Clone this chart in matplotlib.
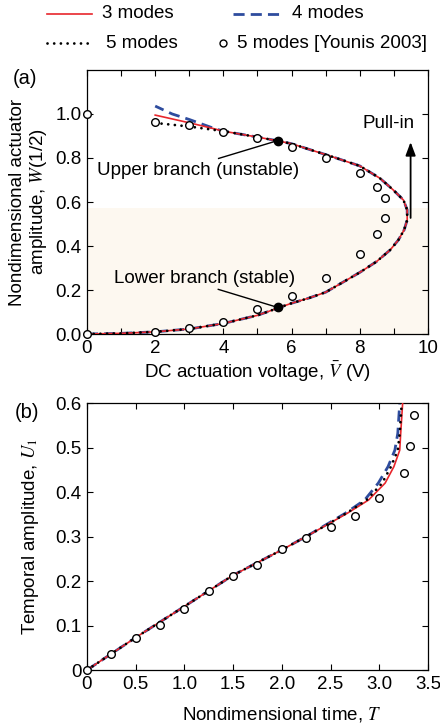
import numpy as np
import matplotlib.pyplot as plt
from matplotlib.lines import Line2D
from matplotlib.ticker import MultipleLocator

plt.rcParams['font.family'] = ['Liberation Sans', 'DejaVu Sans']
plt.rcParams['mathtext.fontset'] = 'stix'
FS = 13.5

################### Panel (a) data : static response

# common part of the S-curve (lower branch -> pull-in nose -> upper branch)
V_common = [0, 1, 2, 3, 4, 5, 5.6, 6, 6.5, 7, 7.5, 8.0, 8.49, 8.89, 9.13, 9.30, 9.39, 9.39,
            9.28, 8.98, 8.59, 8.0, 7.13, 6.5, 6.0, 5.56, 5.0, 4.0]
W_common = [0, 0.003, 0.01, 0.023, 0.048, 0.085, 0.118, 0.14, 0.163, 0.19, 0.235, 0.28, 0.329, 0.382, 0.427, 0.473, 0.518, 0.564,
            0.609, 0.655, 0.708, 0.764, 0.809, 0.84, 0.865, 0.879, 0.895, 0.922]

# upper end of the curve, where the mode counts differ
V_end3 = [3.7, 3.0, 2.0]
W_end3 = [0.934, 0.96, 0.995]
V_end4 = [3.7, 3.0, 2.5, 2.0]
W_end4 = [0.936, 0.975, 1.0, 1.036]
V_end5 = [3.0, 2.14]
W_end5 = [0.943, 0.957]

# Younis 2003 points
V_ref = [0, 0, 2, 3, 4, 5, 6, 7, 8, 8.5, 8.74, 8.74, 8.5, 8, 7, 6, 5, 4, 3, 2]
W_ref = [1.0, 0.0, 0.965, 0.95, 0.92, 0.89, 0.85, 0.80, 0.733, 0.667, 0.617, 0.526, 0.455, 0.364, 0.253, 0.173, 0.112, 0.056, 0.027, 0.009]

V_dot = 5.59
W_dot_up = 0.879
W_dot_low = 0.121
W_shade = 0.574

################### Panel (b) data : temporal response

U_b = [0, 0.073, 0.143, 0.213, 0.27, 0.3, 0.326, 0.352, 0.382, 0.42, 0.457, 0.494, 0.532, 0.6]
T_b3 = [0, 0.5, 1.0, 1.5, 2.0, 2.25, 2.46, 2.67, 2.89, 3.06, 3.15, 3.21, 3.22, 3.24]
T_b4 = [0, 0.5, 1.0, 1.5, 2.0, 2.25, 2.45, 2.65, 2.85, 2.99, 3.09, 3.16, 3.19, 3.21]
T_b5 = [0, 0.5, 1.0, 1.5, 2.0, 2.25, 2.46, 2.66, 2.87, 3.03, 3.12, 3.19, 3.21, 3.23]

T_ref = [0, 0.25, 0.5, 0.75, 1.0, 1.25, 1.5, 1.75, 2.0, 2.25, 2.5, 2.75, 3.0, 3.25, 3.32, 3.36]
U_ref = [0, 0.036, 0.071, 0.102, 0.137, 0.177, 0.212, 0.237, 0.272, 0.297, 0.322, 0.347, 0.387, 0.443, 0.503, 0.573]

RED = '#E8262C'
BLUE = '#2E4C9E'
SHADE = '#FDF8F0'
DASH = (4, 2.2)
DOTS = (0.01, 2.4)

fig = plt.figure(figsize=(4.4, 7.23), dpi=100)
axa = fig.add_axes([0.1977, 0.538, 0.775, 0.3652])
axb = fig.add_axes([0.1977, 0.0733, 0.775, 0.3693])

def style(ax):
    ax.tick_params(direction='in', which='both', top=True, right=True,
                   length=4, width=0.8, labelsize=FS, pad=4)
    for s in ax.spines.values():
        s.set_linewidth(0.9)

def three_curves(ax, x3, y3, x4, y4, x5, y5):
    ax.plot(x4, y4, '--', color=BLUE, lw=2.0, dashes=DASH, zorder=2)
    ax.plot(x3, y3, '-', color=RED, lw=1.2, zorder=3)
    ax.plot(x5, y5, color='black', lw=2.0, ls=(0, DOTS), dash_capstyle='round', zorder=4)

################### (a)
axa.axhspan(0, W_shade, color=SHADE, zorder=0, lw=0)
three_curves(axa, V_common + V_end3, W_common + W_end3,
             V_common + V_end4, W_common + W_end4,
             V_common + V_end5, W_common + W_end5)
axa.plot(V_ref, W_ref, 'o', mfc='white', mec='black', ms=5.5, mew=1.0, clip_on=False, zorder=5)

axa.plot([V_dot, V_dot], [W_dot_up, W_dot_low], 'o', color='black', ms=6, ls='none', zorder=6)
axa.plot([3.86, V_dot], [0.798, W_dot_up], color='black', lw=1.0, zorder=6)
axa.plot([3.85, V_dot], [0.203, W_dot_low], color='black', lw=1.0, zorder=6)
axa.text(3.26, 0.745, 'Upper branch (unstable)', fontsize=FS, ha='center', va='center')
axa.text(3.45, 0.253, 'Lower branch (stable)', fontsize=FS, ha='center', va='center')
axa.annotate('', xy=(9.49, 0.885), xytext=(9.49, 0.515),
             arrowprops=dict(arrowstyle='-|>,head_length=0.8,head_width=0.3', color='black', lw=1.3))
axa.text(8.84, 0.958, 'Pull-in', fontsize=FS, ha='center', va='center')

axa.set_xlim(0, 10)
axa.set_ylim(0, 1.2)
axa.xaxis.set_major_locator(MultipleLocator(2))
axa.xaxis.set_minor_locator(MultipleLocator(1))
axa.set_yticks([0, 0.2, 0.4, 0.6, 0.8, 1.0])
axa.set_yticklabels(['0.0', '0.2', '0.4', '0.6', '0.8', '1.0'])
style(axa)
axa.set_xlabel(r'DC actuation voltage, $\bar{V}$ (V)', fontsize=FS, labelpad=2)
axa.set_ylabel('Nondimensional actuator\namplitude, $W$(1/2)', fontsize=FS, linespacing=1.1)
axa.yaxis.set_label_coords(-0.112, 0.5)
fig.text(25 / 440, 1 - 78 / 723, '(a)', fontsize=FS + 1, ha='center', va='center')

################### (b)
three_curves(axb, T_b3, U_b, T_b4, U_b, T_b5, U_b)
axb.plot(T_ref, U_ref, 'o', mfc='white', mec='black', ms=5.5, mew=1.0, clip_on=False, zorder=5)

axb.set_xlim(0, 3.5)
axb.set_ylim(0, 0.6)
axb.set_xticks(np.arange(0, 3.51, 0.5))
axb.set_xticklabels(['0', '0.5', '1.0', '1.5', '2.0', '2.5', '3.0', '3.5'])
axb.set_yticks(np.arange(0, 0.61, 0.1))
axb.set_yticklabels(['0', '0.1', '0.2', '0.3', '0.4', '0.5', '0.6'])
style(axb)
axb.set_xlabel('Nondimensional time, $T$', fontsize=FS)
axb.xaxis.set_label_coords(0.57, -0.132)
axb.set_ylabel('Temporal amplitude, $U_1$', fontsize=FS)
axb.yaxis.set_label_coords(-0.135, 0.5)
fig.text(27 / 440, 1 - 413 / 723, '(b)', fontsize=FS + 1, ha='center', va='center')

################### legend (drawn by hand, two rows)
y1 = 1 - 14 / 723
y2 = 1 - 43 / 723
fig.add_artist(Line2D([47 / 440, 92 / 440], [y1, y1], color=RED, lw=1.2))
fig.text(102 / 440, y1, '3 modes', fontsize=FS, va='center')
fig.add_artist(Line2D([233 / 440, 280 / 440], [y1, y1], color=BLUE, lw=2.0, ls='--', dashes=DASH))
fig.text(292 / 440, y1, '4 modes', fontsize=FS, va='center')
fig.add_artist(Line2D([47 / 440, 93 / 440], [y2, y2], color='black', lw=2.0, ls=(0, DOTS),
                      dash_capstyle='round'))
fig.text(106 / 440, y2, '5 modes', fontsize=FS, va='center')
fig.add_artist(Line2D([223 / 440], [y2], marker='o', mfc='white', mec='black', ms=5, mew=1.0))
fig.text(237 / 440, y2, '5 modes [Younis 2003]', fontsize=FS, va='center')

fig.savefig('out.png', dpi=100)
